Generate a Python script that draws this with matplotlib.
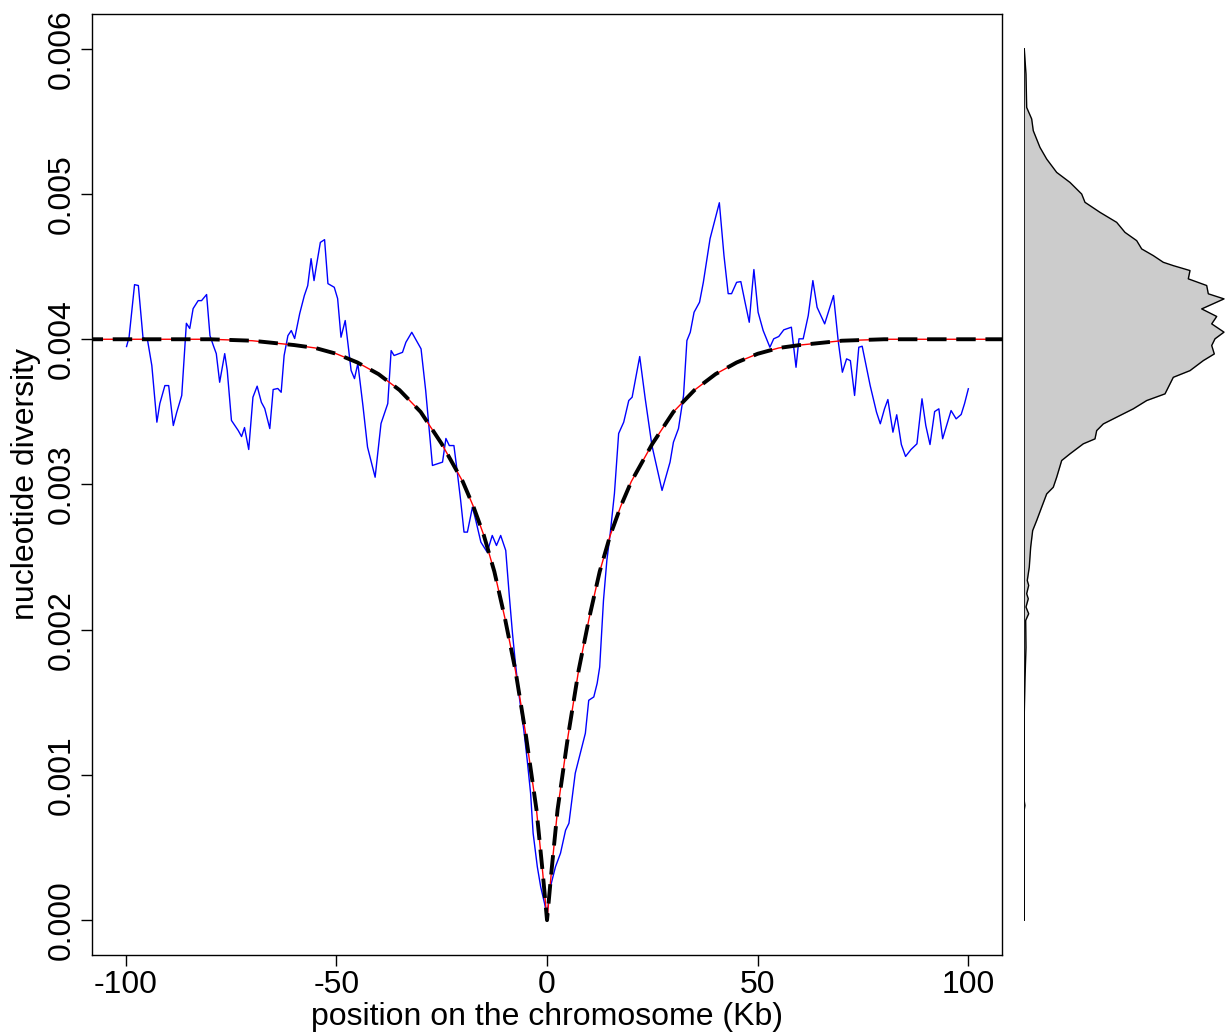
import matplotlib
matplotlib.use('Agg')
import matplotlib.pyplot as plt
import numpy as np

# observed nucleotide diversity along the chromosome (x 1e-3)
pos_kb = [-99.8, -99.2, -97.9, -97.0, -95.9, -94.8, -93.8, -92.6, -91.9, -90.7,
          -89.8, -88.7, -87.9, -86.7, -85.6, -84.8, -84.0, -82.8, -82.0, -80.8,
          -80.0, -79.2, -78.5, -77.7, -76.5, -75.9, -74.9, -73.3, -72.5, -71.8,
          -70.8, -69.8, -68.8, -67.8, -67.0, -65.8, -65.0, -63.9, -63.1, -62.4,
          -61.5, -60.7, -59.9, -58.7, -57.6, -56.8, -56.0, -55.3, -54.8, -53.8,
          -52.8, -52.0, -50.5, -49.7, -48.9, -47.9, -46.5, -45.7, -44.9, -43.7,
          -42.6, -40.8, -39.4, -37.8, -37.0, -36.3, -34.3, -33.5, -32.1, -29.9,
          -28.8, -27.2, -24.8, -24.0, -23.2, -22.1, -21.3, -20.5, -19.7, -18.9,
          -17.7, -16.9, -15.7, -14.2, -13.0, -12.0, -11.0, -9.8, -9.0, -8.2,
          -7.5, -6.7, -5.5, -4.7, -3.9, -3.3, -2.3, -1.5, -0.6, 0.0,
          0.8, 2.0, 3.2, 4.4, 5.2, 6.7, 7.9, 9.1, 9.9, 11.1,
          11.9, 12.5, 13.4, 14.2, 15.0, 16.0, 17.0, 18.2, 19.4, 20.2,
          22.0, 23.3, 24.9, 27.3, 29.2, 30.0, 31.2, 32.4, 33.2, 34.0,
          34.9, 36.2, 37.1, 38.7, 40.9, 42.0, 43.0, 43.8, 45.0, 46.0,
          47.0, 48.0, 48.6, 49.1, 50.1, 51.3, 52.9, 53.8, 55.0, 56.2,
          58.0, 59.1, 59.8, 60.8, 62.0, 63.1, 64.1, 65.9, 68.0, 69.1,
          70.1, 71.1, 72.0, 73.0, 74.0, 74.8, 76.7, 78.2, 79.1, 80.1,
          80.9, 82.1, 83.0, 84.1, 85.1, 86.4, 87.8, 89.0, 89.9, 90.9,
          92.0, 93.0, 93.9, 94.9, 95.9, 97.1, 98.3, 99.1, 100.0]
pi_obs = [3.950, 4.014, 4.376, 4.370, 4.012, 3.991, 3.819, 3.429, 3.557, 3.681,
          3.681, 3.406, 3.496, 3.613, 4.110, 4.074, 4.211, 4.266, 4.266, 4.308,
          4.025, 3.957, 3.901, 3.704, 3.901, 3.785, 3.441, 3.372, 3.330, 3.392,
          3.241, 3.601, 3.677, 3.566, 3.523, 3.385, 3.654, 3.661, 3.635, 3.888,
          4.025, 4.060, 4.005, 4.177, 4.301, 4.369, 4.555, 4.404, 4.495, 4.667,
          4.686, 4.383, 4.358, 4.280, 4.014, 4.129, 3.785, 3.729, 3.833, 3.544,
          3.257, 3.050, 3.420, 3.557, 3.922, 3.888, 3.910, 3.979, 4.048, 3.934,
          3.647, 3.131, 3.154, 3.317, 3.268, 3.268, 3.085, 2.890, 2.672, 2.672,
          2.844, 2.752, 2.603, 2.534, 2.649, 2.580, 2.649, 2.546, 2.250, 1.975,
          1.768, 1.562, 1.307, 1.101, 0.874, 0.599, 0.367, 0.229, 0.117, 0.034,
          0.229, 0.367, 0.461, 0.619, 0.667, 1.012, 1.149, 1.287, 1.514, 1.537,
          1.631, 1.743, 2.202, 2.477, 2.663, 2.938, 3.351, 3.429, 3.578, 3.601,
          3.881, 3.592, 3.268, 2.959, 3.154, 3.291, 3.385, 3.613, 3.991, 4.048,
          4.186, 4.255, 4.392, 4.693, 4.940, 4.576, 4.314, 4.314, 4.392, 4.397,
          4.255, 4.117, 4.323, 4.480, 4.186, 4.060, 3.945, 4.003, 4.019, 4.065,
          4.083, 3.807, 4.003, 4.003, 4.163, 4.404, 4.220, 4.106, 4.301, 3.991,
          3.773, 3.865, 3.853, 3.613, 3.945, 3.952, 3.681, 3.498, 3.418, 3.521,
          3.585, 3.360, 3.480, 3.275, 3.193, 3.241, 3.280, 3.590, 3.406, 3.275,
          3.502, 3.521, 3.315, 3.413, 3.509, 3.452, 3.482, 3.557, 3.659]

# fitted sweep curve, symmetric around the selected site (x 1e-3)
model_dist = [0, 1, 2.5, 5, 7.5, 10, 12.5, 15, 17.5, 20, 25, 30, 35, 40, 45, 50,
              55, 60, 70, 80, 90, 110]
model_pi = [0.0, 0.32, 0.76, 1.27, 1.72, 2.08, 2.40, 2.65, 2.85, 3.02, 3.28,
            3.50, 3.65, 3.76, 3.84, 3.90, 3.94, 3.96, 3.99, 4.00, 4.00, 4.00]

# density of diversity values (side panel), arbitrary units
dens_pi = [6.000, 5.826, 5.596, 5.517, 5.436, 5.321, 5.241, 5.149, 5.080, 5.000,
           4.943, 4.874, 4.805, 4.736, 4.679, 4.622, 4.576, 4.530, 4.507, 4.473,
           4.416, 4.370, 4.313, 4.278, 4.209, 4.157, 4.106, 4.049, 4.003, 3.957,
           3.899, 3.853, 3.784, 3.738, 3.624, 3.578, 3.521, 3.475, 3.417, 3.371,
           3.314, 3.280, 3.211, 3.165, 3.050, 2.981, 2.935, 2.844, 2.752, 2.683,
           2.569, 2.431, 2.339, 2.305, 2.248, 2.213, 2.156, 2.110, 2.064, 1.878,
           1.651, 1.424, 0.820, 0.790, 0.760, 0.000]
dens_val = [0.3, 2.0, 2.7, 7.7, 9.3, 16.0, 22.7, 32.7, 46.0, 57.7,
            61.0, 76.0, 92.7, 101.0, 112.7, 117.7, 129.3, 139.3, 149.3, 166.0,
            164.3, 182.7, 184.3, 200.0, 177.7, 192.7, 187.7, 200.0, 191.0, 187.7,
            190.3, 179.3, 166.0, 149.3, 141.0, 122.7, 109.3, 96.0, 79.3, 72.7,
            71.0, 59.3, 46.0, 37.7, 32.7, 29.3, 22.7, 17.7, 12.7, 8.7,
            6.7, 5.3, 3.3, 4.7, 2.7, 4.3, 2.0, 4.7, 1.7, 2.0,
            1.0, 0.3, 0.3, 0.9, 0.3, 0.3]

plt.rcParams['font.family'] = ['Liberation Sans', 'DejaVu Sans']
plt.rcParams['axes.unicode_minus'] = False  # plain hyphen like the original

x_obs = np.array(pos_kb)
y_obs = np.array(pi_obs) * 1e-3
d = np.array(model_dist)
x_mod = np.concatenate([-d[::-1], d[1:]])
y_mod = np.concatenate([model_pi[::-1], model_pi[1:]]) * 1e-3

fig = plt.figure(figsize=(12.25, 10.34), dpi=100)
ax = fig.add_axes([0.0751, 0.0764, 0.7429, 0.9101])

ax.plot(x_obs, y_obs, color='blue', lw=1.0)
ax.plot(x_mod, y_mod, color='red', lw=1.0)
ax.plot(x_mod, y_mod, color='black', lw=2.8, dashes=(5, 2.5))

ax.set_xlim(-108, 108)
ax.set_ylim(-0.00024, 0.00624)
ax.set_xticks([-100, -50, 0, 50, 100])
ax.set_yticks([0, 0.001, 0.002, 0.003, 0.004, 0.005, 0.006])
ax.set_yticklabels(['%.3f' % v for v in ax.get_yticks()])
ax.tick_params(direction='out', length=8, width=1, labelsize=23, pad=3)
for lab in ax.get_yticklabels():
    lab.set_rotation(90)
    lab.set_va('center')
for s in ax.spines.values():
    s.set_linewidth(1)
ax.set_xlabel('position on the chromosome (Kb)', fontsize=23, labelpad=1)
ax.set_ylabel('nucleotide diversity', fontsize=23, labelpad=4)

# side density panel
ax2 = fig.add_axes([0.8359, 0.0764, 0.1641, 0.9101])
ax2.set_xlim(0, 201)
ax2.set_ylim(-0.00024, 0.00624)
dp = np.array(dens_pi) * 1e-3
ax2.fill_betweenx(dp, 0, dens_val, color='#CCCCCC', lw=0)
ax2.plot(dens_val, dp, color='black', lw=1)
ax2.plot([0, 0], [0, 0.006], color='black', lw=1.2)
ax2.axis('off')

fig.savefig('out.png', dpi=100)
